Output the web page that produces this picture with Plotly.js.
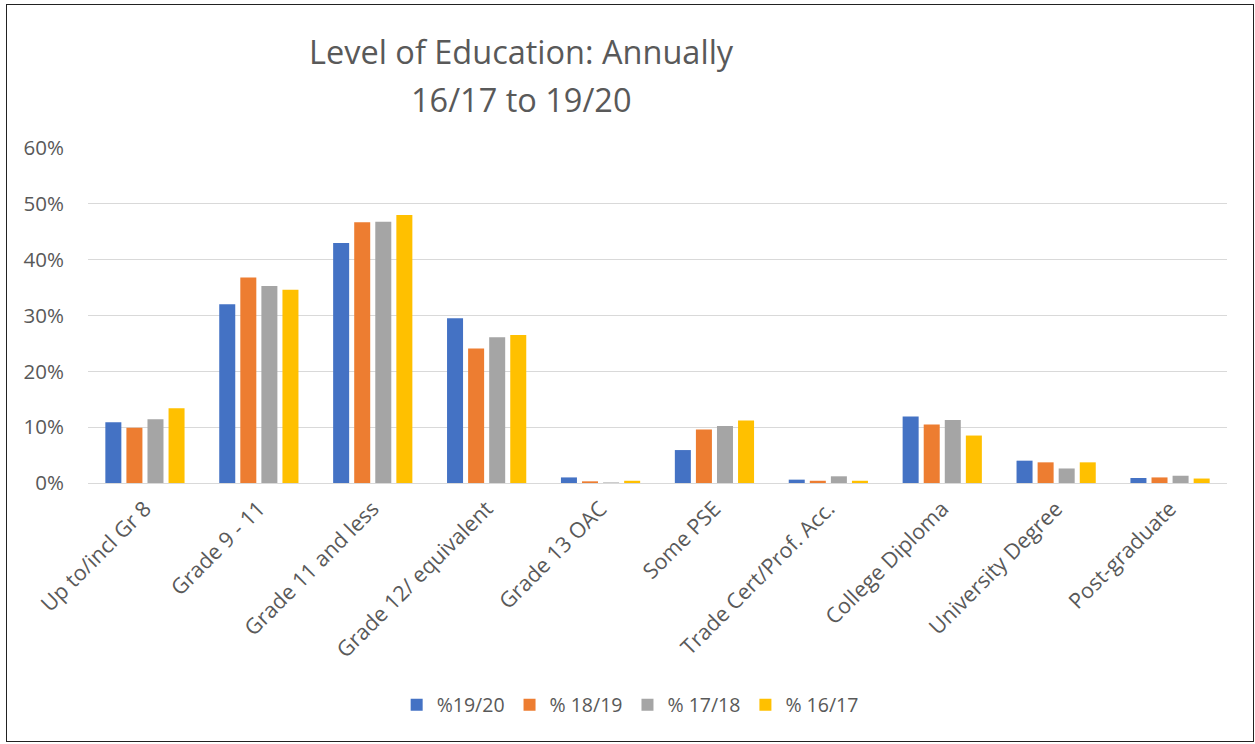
<!DOCTYPE html>
<html>
<head>
<meta charset="utf-8">
<script src="https://cdn.plot.ly/plotly-3.0.1.min.js"></script>
<style>
html,body{margin:0;padding:0;background:#fff;}
#wrap{position:relative;width:1255px;height:744px;}
#chart{width:1255px;height:744px;}
#frame{position:absolute;left:6px;top:4px;width:1246px;height:736px;border:1px solid #222;pointer-events:none;}
</style>
</head>
<body>
<div id="wrap"><div id="chart"></div><div id="frame"></div></div>
<script>
const categories = ["Up to/incl Gr 8","Grade 9 - 11","Grade 11 and less","Grade 12/ equivalent","Grade 13 OAC","Some PSE","Trade Cert/Prof. Acc.","College Diploma","University Degree","Post-graduate"];
const seriesNames = ["%19/20","% 18/19","% 17/18","% 16/17"];
const s1920 = [0.109,0.320,0.430,0.295,0.010,0.059,0.006,0.119,0.040,0.009];
const s1819 = [0.099,0.368,0.467,0.241,0.003,0.096,0.004,0.105,0.037,0.010];
const s1718 = [0.114,0.353,0.468,0.261,0.001,0.102,0.012,0.113,0.026,0.013];
const s1617 = [0.134,0.346,0.480,0.265,0.004,0.112,0.004,0.085,0.037,0.008];
const titleLines = ["Level of Education: Annually","16/17 to 19/20"];
const colors = ["#4472C4","#ED7D31","#A5A5A5","#FFC000"];
const allSeries = [s1920,s1819,s1718,s1617];

const font = "'Open Sans', sans-serif";
const data = allSeries.map((vals,i)=>({
  type:'bar', x:categories, y:vals, name:seriesNames[i],
  marker:{color:colors[i]}, hoverinfo:'x+y'
}));

const layout = {
  width:1255, height:744,
  margin:{l:88, r:28, t:148, b:261},
  paper_bgcolor:'#fff', plot_bgcolor:'#fff',
  font:{family:font, color:'#595959', size:19},
  annotations:[
    {text:titleLines[0], xref:'paper', yref:'paper', x:0.381, y:1.2866, xanchor:'center', yanchor:'middle', showarrow:false, font:{family:font, size:32.5, color:'#595959'}},
    {text:titleLines[1], xref:'paper', yref:'paper', x:0.381, y:1.1433, xanchor:'center', yanchor:'middle', showarrow:false, font:{family:font, size:32.5, color:'#595959'}}
  ],
  barmode:'group', bargap:0.26, bargroupgap:0.24,
  xaxis:{tickangle:-45, tickfont:{size:21.5, color:'#595959'}, showgrid:false, showline:false, ticks:'', ticklabelstandoff:8},
  yaxis:{range:[0,0.6], dtick:0.1, tickformat:'.0%', gridcolor:'#d9d9d9', gridwidth:1,
         zeroline:true, zerolinecolor:'#d9d9d9', zerolinewidth:1, showline:false,
         tickfont:{size:20.5, color:'#595959'}, ticklabelstandoff:23},
  legend:{orientation:'h', x:0.476, xanchor:'center', y:-0.663, yanchor:'middle',
          font:{size:19.5, color:'#595959'}, itemwidth:30, traceorder:'normal'},
  showlegend:true
};
Plotly.newPlot('chart', data, layout, {displayModeBar:false, staticPlot:true});
</script>
</body>
</html>
